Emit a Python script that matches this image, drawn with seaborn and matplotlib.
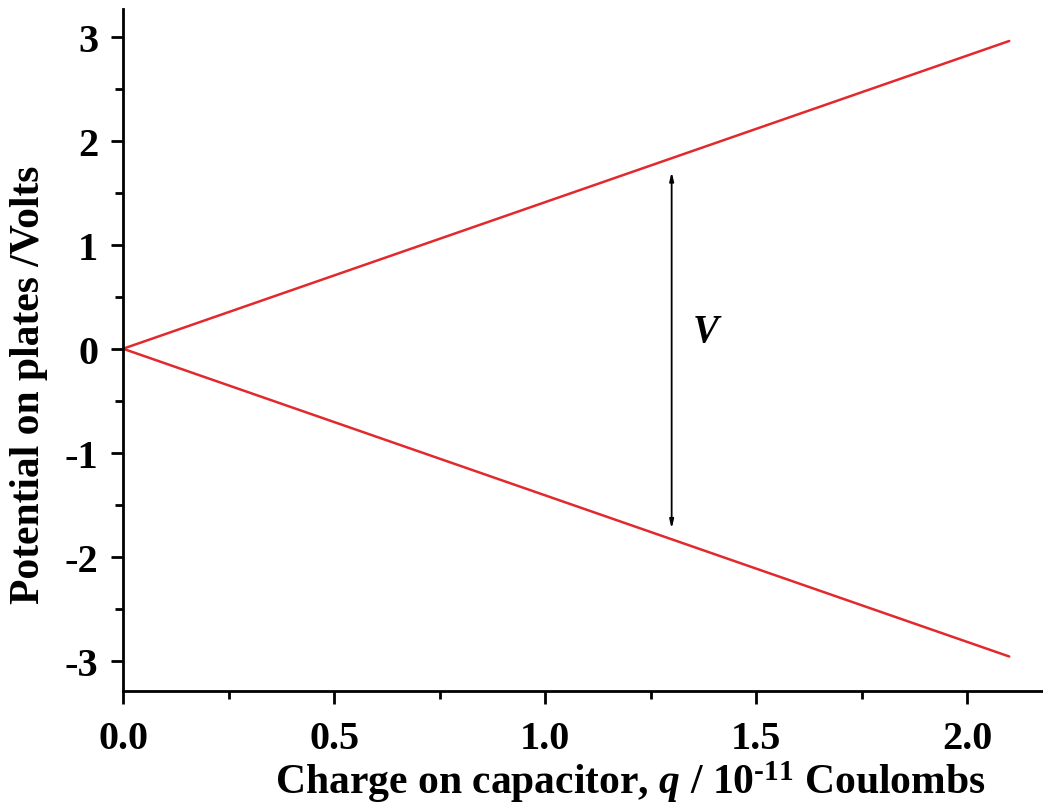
import matplotlib
matplotlib.use("Agg")
import matplotlib.pyplot as plt
import seaborn as sns
import pandas as pd
from matplotlib.ticker import MultipleLocator

# --- data ---
charge = [0.0, 2.1]            # q / 1e-11 C
plate_pos = [0.0, 2.96]        # upper plate potential / V
plate_neg = [0.0, -2.96]       # lower plate potential / V
arrow_q = 1.3
arrow_top, arrow_bottom = 1.70, -1.73
label_q, label_v = 1.35, 0.17

RED = "#e2292d"

sns.set_style("ticks")
plt.rcParams["font.family"] = ["Liberation Serif", "DejaVu Serif"]
plt.rcParams["font.weight"] = "bold"
plt.rcParams["text.color"] = "black"
plt.rcParams["axes.labelcolor"] = "black"
plt.rcParams["xtick.color"] = "black"
plt.rcParams["ytick.color"] = "black"
plt.rcParams["axes.unicode_minus"] = False
plt.rcParams["mathtext.fontset"] = "custom"
plt.rcParams["mathtext.rm"] = "Liberation Serif:bold"
plt.rcParams["mathtext.bf"] = "Liberation Serif:bold"
plt.rcParams["mathtext.it"] = "Liberation Serif:italic:bold"

df = pd.DataFrame({
    "q": charge + charge,
    "V": plate_pos + plate_neg,
    "plate": ["pos"] * len(charge) + ["neg"] * len(charge),
})

fig = plt.figure(figsize=(10.43, 8.12), dpi=100)
ax = fig.add_axes([0.118, 0.148, 0.882, 0.840])

sns.lineplot(data=df, x="q", y="V", hue="plate", palette=[RED, RED],
             linewidth=1.8, legend=False, ax=ax)

ax.annotate("", xy=(arrow_q, arrow_top), xytext=(arrow_q, arrow_bottom),
            arrowprops=dict(arrowstyle="<|-|>,head_length=0.5,head_width=0.12",
                            color="black", lw=1.3, shrinkA=0, shrinkB=0))
ax.text(label_q, label_v, "V", fontsize=28, fontstyle="italic",
        fontweight="bold", ha="left", va="center")

ax.set_xlim(0, 2.18)
ax.set_ylim(-3.29, 3.27)
ax.xaxis.set_major_locator(MultipleLocator(0.5))
ax.xaxis.set_minor_locator(MultipleLocator(0.25))
ax.yaxis.set_major_locator(MultipleLocator(1))
ax.yaxis.set_minor_locator(MultipleLocator(0.5))
ax.set_xticklabels([f"{v:.1f}" for v in ax.get_xticks()])
ax.set_yticklabels([f"{v:g}" for v in ax.get_yticks()])

sns.despine(ax=ax)
for s in ["left", "bottom"]:
    ax.spines[s].set_linewidth(2.0)
    ax.spines[s].set_color("black")
ax.tick_params(which="major", length=9, width=2.0, labelsize=29)
ax.tick_params(which="minor", length=6, width=2.0)
ax.tick_params(axis="x", which="major", pad=12)
ax.tick_params(axis="y", which="major", pad=9)

ax.set_xlabel(r"Charge on capacitor, $q$ / 10$^{\text{-11}}$ Coulombs",
              fontsize=30, fontweight="bold", labelpad=1)
ax.set_ylabel("Potential on plates /Volts", fontsize=30, fontweight="bold", labelpad=12)
# the source figure is cropped on the right, so labels sit off-centre
ax.xaxis.label.set_x(0.551)
ax.yaxis.label.set_y(0.45)

fig.savefig("out.png", dpi=100)
